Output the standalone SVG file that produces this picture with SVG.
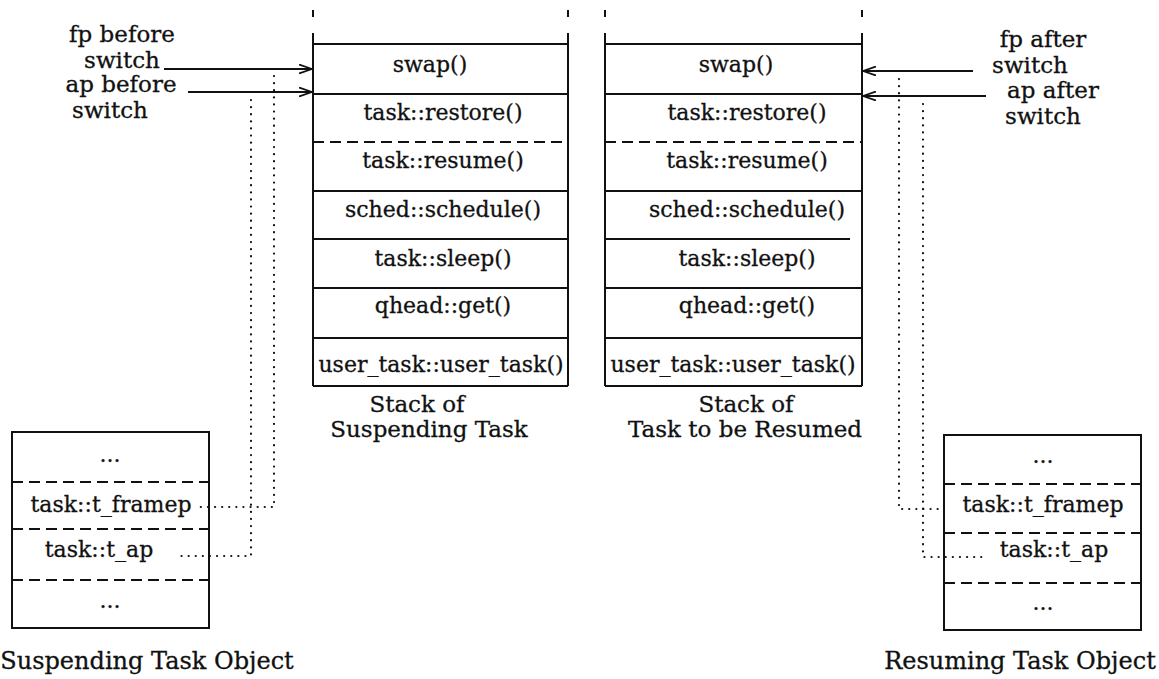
<svg xmlns="http://www.w3.org/2000/svg" width="1159" height="679" viewBox="0 0 1159 679">
<style>
text{font-family:"DejaVu Serif","Liberation Serif",serif;font-size:22px;fill:#111;stroke:#111;stroke-width:0.3}
.c{text-anchor:middle}
.cap{font-size:23px}
.big{font-size:24px}
.ln{stroke:#111;stroke-width:2;fill:none}
.dash{stroke:#111;stroke-width:2;fill:none;stroke-dasharray:11 6}
.dot{stroke:#111;stroke-width:2.2;fill:none;stroke-dasharray:0.1 7;stroke-linecap:round}
.arr{stroke:#111;stroke-width:2;fill:none;marker-end:url(#ah)}
</style>
<defs>
<marker id="ah" viewBox="0 0 14 10" refX="13" refY="5" markerWidth="14" markerHeight="10" markerUnits="userSpaceOnUse" orient="auto">
<path d="M0,0.5 L13,5 L0,9.5" fill="none" stroke="#111" stroke-width="1.8"/>
</marker>
</defs>
<rect width="1159" height="679" fill="#fff"/>

<g id="stack-suspending">
<path class="ln" d="M313,10 V17 M568,10 V17 M313,33 V386 M568,33 V386 M313,44 H568 M313,94 H568 M313,191 H568 M313,239 H568 M313,288 H568 M313,338 H568 M313,386 H568"/>
<path class="dash" d="M313,142 H568"/>
<text class="c" x="430" y="72">swap()</text>
<text class="c" x="443" y="120">task::restore()</text>
<text class="c" x="443" y="168">task::resume()</text>
<text class="c" x="443" y="217">sched::schedule()</text>
<text class="c" x="443" y="266">task::sleep()</text>
<text class="c" x="443" y="313">qhead::get()</text>
<text class="c" x="441" y="372">user_task::user_task()</text>
<text class="c cap" x="417" y="412">Stack of</text>
<text class="c cap" x="429" y="437">Suspending Task</text>
</g>

<g id="stack-resumed">
<path class="ln" d="M605,10 V17 M862,10 V17 M605,33 V386 M862,33 V386 M605,44 H862 M605,94 H862 M605,191 H862 M605,239 H850 M605,288 H862 M605,338 H862 M605,386 H862"/>
<path class="dash" d="M605,142 H862"/>
<text class="c" x="736" y="72">swap()</text>
<text class="c" x="747" y="120">task::restore()</text>
<text class="c" x="747" y="168">task::resume()</text>
<text class="c" x="747" y="217">sched::schedule()</text>
<text class="c" x="747" y="266">task::sleep()</text>
<text class="c" x="747" y="313">qhead::get()</text>
<text class="c" x="733" y="372">user_task::user_task()</text>
<text class="c cap" x="746" y="412">Stack of</text>
<text class="c cap" x="745" y="437">Task to be Resumed</text>
</g>

<g id="suspending-object">
<rect class="ln" x="12" y="432" width="197" height="196"/>
<path class="dash" d="M12,482 H209 M12,529 H209 M12,580 H209"/>
<text class="c" x="110" y="462">...</text>
<text class="c" x="111" y="512">task::t_framep</text>
<text class="c" x="99" y="557">task::t_ap</text>
<text class="c" x="110" y="608">...</text>
<text class="c big" x="147" y="669">Suspending Task Object</text>
</g>

<g id="resuming-object">
<rect class="ln" x="944" y="435" width="197" height="195"/>
<path class="dash" d="M944,484 H1141 M944,533 H1141 M944,583 H1141"/>
<text class="c" x="1043" y="463">...</text>
<text class="c" x="1043" y="512">task::t_framep</text>
<text class="c" x="1054" y="557">task::t_ap</text>
<text class="c" x="1043" y="610">...</text>
<text class="c big" x="1020" y="669">Resuming Task Object</text>
</g>

<g id="label-fp-before">
<text class="c cap" x="122" y="42">fp before</text>
<text class="c cap" x="122" y="68">switch</text>
</g>
<g id="label-ap-before">
<text class="c cap" x="121" y="92">ap before</text>
<text class="c cap" x="110" y="118">switch</text>
</g>
<g id="label-fp-after">
<text class="c cap" x="1043" y="47">fp after</text>
<text class="c cap" x="1030" y="73">switch</text>
</g>
<g id="label-ap-after">
<text class="c cap" x="1053" y="98">ap after</text>
<text class="c cap" x="1043" y="124">switch</text>
</g>

<g id="connectors">
<path class="arr" d="M164,69 H312"/>
<path class="arr" d="M188,92 H312"/>
<path class="arr" d="M973,71 H863"/>
<path class="arr" d="M986,96 H863"/>
<path class="dot" d="M274,76 V507 H196"/>
<path class="dot" d="M251,100 V556 H175"/>
<path class="dot" d="M899,79 V509 H942"/>
<path class="dot" d="M923,104 V557 H983"/>
</g>
</svg>
